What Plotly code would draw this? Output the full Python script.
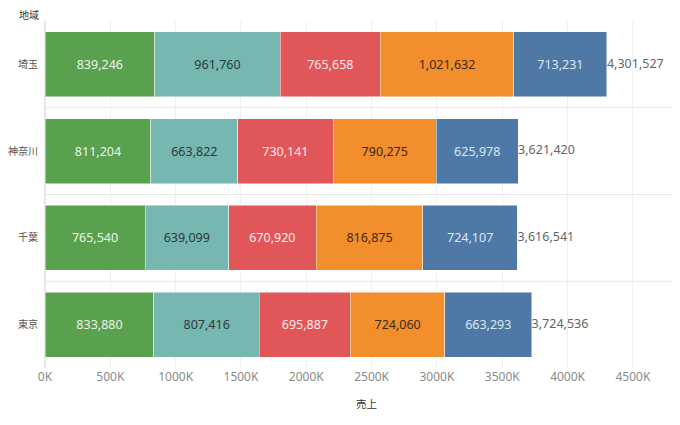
import plotly.graph_objects as go

regions = ["埼玉", "神奈川", "千葉", "東京"]
series_names = ["区分1", "区分2", "区分3", "区分4", "区分5"]
s1 = [839246, 811204, 765540, 833880]
s2 = [961760, 663822, 639099, 807416]
s3 = [765658, 730141, 670920, 695887]
s4 = [1021632, 790275, 816875, 724060]
s5 = [713231, 625978, 724107, 663293]
tick_vals = [0, 500000, 1000000, 1500000, 2000000, 2500000, 3000000, 3500000, 4000000, 4500000]
tick_text = ["0K", "500K", "1000K", "1500K", "2000K", "2500K", "3000K", "3500K", "4000K", "4500K"]

colors = ["#59A14F", "#76B7B2", "#E15759", "#F28E2B", "#4E79A7"]
text_colors = ["#eef3ea", "#2b3a3a", "#fbeaea", "#3a2a1a", "#dce6f0"]
font = "Noto Sans CJK JP"
num_font = "Noto Sans"

fig = go.Figure()
for name, vals, c, tc in zip(series_names, [s1, s2, s3, s4, s5], colors, text_colors):
    fig.add_trace(go.Bar(
        y=regions, x=vals, name=name, orientation="h",
        marker=dict(color=c, line=dict(color="rgba(255,255,255,0.6)", width=0.8)),
        width=0.75,
        texttemplate="%{x:,}", textposition="inside", insidetextanchor="middle",
        textfont=dict(color=tc, size=12.5, family=num_font),
        hoverinfo="x+name",
    ))

totals = [a + b + c + d + e for a, b, c, d, e in zip(s1, s2, s3, s4, s5)]
fig.add_trace(go.Scatter(
    y=regions, x=totals, mode="text",
    text=[f"{t:,}" for t in totals], textposition="middle right",
    textfont=dict(color="#666666", size=12.5, family=num_font),
    showlegend=False, hoverinfo="skip",
))

# row separators
for yy in [0.5, 1.5, 2.5]:
    fig.add_shape(type="line", xref="paper", x0=0, x1=1, yref="y", y0=yy, y1=yy,
                  line=dict(color="#e6e6e6", width=1), layer="below")

# axis titles as annotations
fig.add_annotation(text="地域", xref="paper", yref="paper", x=0, y=1, xshift=-27, yshift=7,
                   xanchor="left", yanchor="middle", showarrow=False, borderpad=0,
                   font=dict(size=10, color="#333333", family=font))
fig.add_annotation(text="売上", xref="paper", yref="paper", x=0.5, y=0, xshift=6, yshift=-35,
                   xanchor="center", yanchor="middle", showarrow=False, borderpad=0,
                   font=dict(size=10.5, color="#333333", family=font))

# page body has an 8px margin, so the figure is sized a bit smaller
fig.update_layout(
    barmode="stack",
    width=672, height=417,
    margin=dict(l=37, r=4, t=13, b=57, autoexpand=False),
    paper_bgcolor="white", plot_bgcolor="white",
    showlegend=False,
    font=dict(family=font),
    xaxis=dict(
        range=[0, 4830000], tickvals=tick_vals, ticktext=tick_text,
        showgrid=True, gridcolor="#f0f0f0", zeroline=True, zerolinecolor="#e6e6e6",
        tickfont=dict(size=12, color="#8a8a8a", family=num_font),
        automargin=False, fixedrange=True,
    ),
    yaxis=dict(
        categoryorder="array", categoryarray=regions[::-1],
        showgrid=False, zeroline=False, automargin=False,
        tickfont=dict(size=10, color="#555555"), ticklabelstandoff=6,
    ),
)

fig.write_html("out.html")
